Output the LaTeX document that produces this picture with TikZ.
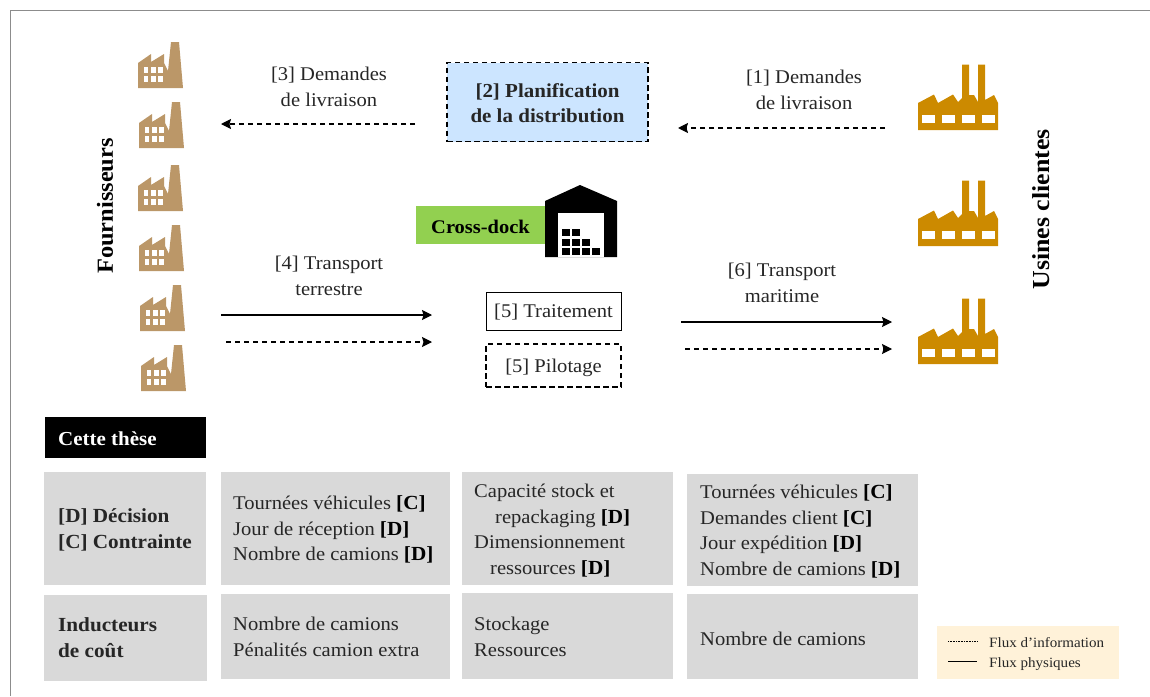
\documentclass[tikz,border=0pt]{standalone}
\usepackage{fontspec}
\setmainfont[FakeStretch=1.06]{Liberation Serif}
\usetikzlibrary{arrows.meta}
\definecolor{brownf}{HTML}{BB9768}
\definecolor{orangef}{HTML}{CC8A00}
\definecolor{greyb}{HTML}{D9D9D9}
\definecolor{blueb}{HTML}{CCE5FF}
\definecolor{greenb}{HTML}{92D050}
\definecolor{legb}{HTML}{FFF2D9}
\definecolor{frameg}{HTML}{8C8C8C}
\definecolor{txt}{HTML}{262626}
\newcommand{\mainsz}{\fontsize{19.4}{25.7}\selectfont}
\newcommand{\boldsz}{\fontsize{20}{25.7}\selectfont\bfseries\color{black}}
\newcommand{\tb}[1]{{\fontsize{20}{25.7}\selectfont\bfseries\color{black}#1}}
\tikzset{
 x=1pt,y=-1pt,
 lab/.style={inner sep=0pt,align=center,text=txt,font=\mainsz},
 labl/.style={lab,align=left,anchor=west},
 greybox/.style={fill=greyb,draw=none},
 phys/.style={draw=black,line width=1.1pt,-{Stealth[length=10pt,width=10pt,inset=1.5pt]}},
 info/.style={phys,dash pattern=on 5pt off 4pt},
 dashbox/.style={draw=black,line width=1.1pt,dash pattern=on 5.5pt off 3.5pt},
 pics/brownfac/.style={code={
  \fill[brownf] (0,0)--(0,-25)--(13,-34)--(13,-26)--(26,-34)--(26,-25)--(30,-17)--(33,-46)--(41,-46)--(45,0)--cycle;
  \foreach \a in {5.5,13,20}\foreach \b in {-21,-12}
    \fill[white] (\a,\b) rectangle ++(4.6,5.6);
 }},
 pics/orangefac/.style={code={
  \fill[orangef] (0,0)--(0,-27)--(16,-35.5)--(20,-27)--(35,-35.5)--(40,-28)--(44,-32)--(44,-65.5)--(51,-65.5)--(51,-35)--(56,-35)--(60,-28)--(60,-65.5)--(67,-65.5)--(67,-30)--(76,-35)--(80,-27)--(80,0)--cycle;
  \foreach \a in {3.7,23.7,43.7,63.7}
    \fill[white] (\a,-15) rectangle ++(13.3,8);
 }},
}
\begin{document}
\begin{tikzpicture}
\useasboundingbox (0,0) rectangle (1150,696);
\draw[frameg,line width=1pt] (10.5,696)--(10.5,10.5)--(1150,10.5);
% grey boxes
\fill[greybox] (44,472) rectangle (206,585);
\fill[greybox] (221,472) rectangle (450,585);
\fill[greybox] (462,472) rectangle (673,585);
\fill[greybox] (687,474) rectangle (918,586);
\fill[greybox] (44,595) rectangle (207,681);
\fill[greybox] (221,594) rectangle (450,679);
\fill[greybox] (462,593) rectangle (673,679);
\fill[greybox] (687,594) rectangle (918,679);
\fill[black] (45,417) rectangle (206,458);
\fill[legb] (937,626) rectangle (1119,679);
% factories
\foreach \x/\y in {138/88,139/148,138/211,139/271,140/331,141/391}
  \pic at (\x,\y) {brownfac};
\foreach \y in {130,246,364}
  \pic at (918,\y) {orangefac};
% warehouse
\fill[black] (545,257)--(545,201)--(580,185)--(617,201)--(617,257)--cycle;
\fill[white] (558,212.5) rectangle (604,257);
\foreach \a/\b in {0/0,10/0,0/1,10/1,20/1,0/2,10/2,20/2,30/2}
  \fill[black] (561.5+\a,229+\b*9.7) rectangle ++(8,7);
% labelled boxes
\node[lab,fill=greenb,minimum width=129pt,minimum height=38pt,font=\fontsize{19.3}{20}\selectfont\bfseries,text=black,text depth=1pt,text height=17pt] (cd) at (480.5,225) {Cross-dock};
\node[lab,fill=blueb,dashbox,minimum width=201pt,minimum height=79pt] (plan) at (547.5,102) {};
\node[lab,font=\fontsize{19.8}{25}\selectfont\bfseries\color{black}] (plantxt) at (547.5,103) {[2] Planification\\de la distribution};
\node[lab,draw=black,line width=1pt,minimum width=135pt,minimum height=38pt,text height=15pt,text depth=2pt] (trait) at (553.5,311) {[5] Traitement};
\node[lab,dashbox,minimum width=135pt,minimum height=43pt,text height=15pt,text depth=2pt] (pil) at (553.5,365.5) {[5] Pilotage};
% labels
\node[lab] (l3) at (329,87) {[3] Demandes\\de livraison};
\node[lab] (l1) at (804,90) {[1] Demandes\\de livraison};
\node[lab] (l4) at (329,276) {[4] Transport\\terrestre};
\node[lab] (l6) at (782,283) {[6] Transport\\maritime};
\node[lab,rotate=90,font=\fontsize{23}{24}\selectfont\bfseries,text=black] (fou) at (105,206) {Fournisseurs};
\node[lab,rotate=90,font=\fontsize{24.4}{24}\selectfont\bfseries,text=black] (usi) at (1041,209.5) {Usines clientes};
% connectors
\coordinate (a1s) at (885,128); \coordinate (a1e) at (678,128);
\coordinate (a3s) at (415,124); \coordinate (a3e) at (221,124);
\coordinate (a4s) at (221,315); \coordinate (a4e) at (432,315);
\coordinate (a5s) at (226,342); \coordinate (a5e) at (432,342);
\coordinate (a6s) at (681,322); \coordinate (a6e) at (892,322);
\coordinate (a7s) at (685,349); \coordinate (a7e) at (892,349);
\draw[info] (a1s)--(a1e);
\draw[info] (a3s)--(a3e);
\draw[phys] (a4s)--(a4e);
\draw[info] (a5s)--(a5e);
\draw[phys] (a6s)--(a6e);
\draw[info] (a7s)--(a7e);
% table
\node[lab,anchor=west,text=white,font=\fontsize{19.8}{20}\selectfont\bfseries] (these) at (58,439) {Cette thèse};
\node[labl,font=\boldsz] (r1) at (58,530) {[D] Décision\\{}[C] Contrainte};
\node[labl,font=\boldsz] (r2) at (58,637.5) {Inducteurs\\de coût};
\node[labl] (c11) at (233,529.5) {Tournées véhicules \tb{[C]}\\Jour de réception \tb{[D]}\\Nombre de camions \tb{[D]}};
\node[labl] (c12) at (474,530.5) {Capacité stock et\\\hspace*{21pt}repackaging \tb{[D]}\\Dimensionnement\\\hspace*{16pt}ressources \tb{[D]}};
\node[labl] (c13) at (700,531.5) {Tournées véhicules \tb{[C]}\\Demandes client \tb{[C]}\\Jour expédition \tb{[D]}\\Nombre de camions \tb{[D]}};
\node[labl] (c21) at (233,637) {Nombre de camions\\Pénalités camion extra};
\node[labl] (c22) at (474,637) {Stockage\\Ressources};
\node[labl] (c23) at (700,638.5) {Nombre de camions};
% legend
\coordinate (li1s) at (948,641); \coordinate (li1e) at (977,641);
\coordinate (li2s) at (948,661); \coordinate (li2e) at (977,661);
\draw[black,line width=.7pt,dash pattern=on 1pt off .6pt] (li1s)--(li1e);
\draw[black,line width=.8pt] (li2s)--(li2e);
\node[labl,font=\fontsize{14.2}{15}\selectfont] (li1) at (989,643) {Flux d'information};
\node[labl,font=\fontsize{14.2}{15}\selectfont] (li2) at (989,664) {Flux physiques};
\end{tikzpicture}
\end{document}
